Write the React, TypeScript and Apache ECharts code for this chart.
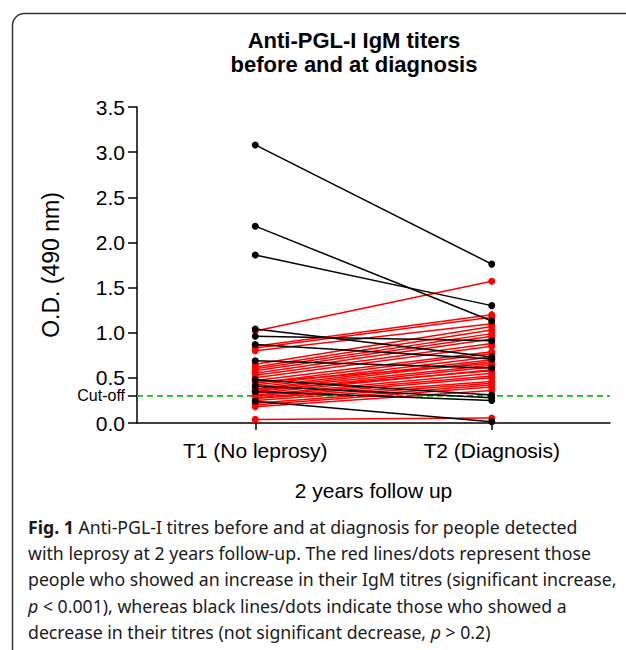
import React, { useEffect, useRef } from "react";
import * as echarts from "echarts";

const xCategories = ["T1 (No leprosy)", "T2 (Diagnosis)"];
const xPositions = [1, 3];
const yTicks = [0, 0.3, 0.5, 1.0, 1.5, 2.0, 2.5, 3.0, 3.5];
const cutOff = 0.3;

// Increasing titres (red)
const redT1 = [1.02, 0.85, 0.83, 0.8, 0.65, 0.62, 0.6, 0.58, 0.55, 0.53, 0.5, 0.47, 0.45, 0.44, 0.42, 0.4, 0.38, 0.37, 0.36, 0.35, 0.33, 0.31, 0.3, 0.28, 0.27, 0.25, 0.22, 0.2, 0.18, 0.04];
const redT2 = [1.57, 1.2, 1.17, 1.1, 1.07, 1.03, 0.99, 0.96, 0.93, 0.88, 0.85, 0.79, 0.66, 0.77, 0.73, 0.7, 0.68, 0.64, 0.58, 0.62, 0.59, 0.55, 0.52, 0.5, 0.46, 0.44, 0.42, 0.4, 0.36, 0.055];

// Decreasing titres (black)
const blackT1 = [3.08, 2.18, 1.86, 1.04, 0.96, 0.87, 0.69, 0.48, 0.41, 0.35, 0.24];
const blackT2 = [1.76, 1.13, 1.3, 0.73, 0.91, 0.71, 0.61, 0.31, 0.28, 0.25, 0.015];

const titleLines = ["Anti-PGL-I IgM titers", "before and at diagnosis"];
const yAxisName = "O.D. (490 nm)";
const xAxisName = "2 years follow up";

const captionLines = [
  "{b|Fig. 1} Anti-PGL-I titres before and at diagnosis for people detected",
  "with leprosy at 2 years follow-up. The red lines/dots represent those",
  "people who showed an increase in their IgM titres (significant increase,",
  "{i|p} < 0.001), whereas black lines/dots indicate those who showed a",
  "decrease in their titres (not significant decrease, {i|p} > 0.2)",
];

export default function App() {
  const ref = useRef<HTMLDivElement>(null);
  useEffect(() => {
    if (!ref.current) return;
    const chart = echarts.init(ref.current, undefined, { renderer: "svg" });
    const axisFont = "Liberation Sans, Arial, sans-serif";
    const capFont = "Noto Sans, Open Sans, sans-serif";
    const capSize = 17.7;
    const pairSeries = (t1: number[], t2: number[], color: string, name: string) =>
      t1.map((v, i) => ({
        type: "line",
        name: name + i,
        data: [
          [xPositions[0], v],
          [xPositions[1], t2[i]],
        ],
        symbol: "circle",
        symbolSize: 7,
        itemStyle: { color },
        lineStyle: { color, width: 1.5 },
        silent: true,
      }));

    const option: any = {
      animation: false,
      grid: { left: 137, top: 107, right: 16, bottom: 227, containLabel: false },
      xAxis: {
        type: "value",
        min: 0,
        max: 4,
        interval: 1,
        name: xAxisName,
        nameLocation: "middle",
        nameGap: 57,
        nameTextStyle: { fontFamily: axisFont, fontSize: 21, color: "#000" },
        axisLine: { show: true, lineStyle: { color: "#000", width: 1.5 } },
        axisTick: { show: true, customValues: xPositions, length: 7, lineStyle: { color: "#000", width: 1.5 } },
        axisLabel: {
          customValues: xPositions,
          formatter: (v: number) => xCategories[xPositions.indexOf(v)] ?? "",
          fontFamily: axisFont,
          fontSize: 21,
          color: "#000",
          margin: 17,
        },
        splitLine: { show: false },
      },
      yAxis: {
        type: "value",
        min: 0,
        max: 3.5,
        interval: 0.5,
        name: yAxisName,
        nameLocation: "middle",
        nameRotate: 90,
        nameGap: 75,
        nameTextStyle: { fontFamily: axisFont, fontSize: 23, color: "#000" },
        axisLine: { show: true, lineStyle: { color: "#000", width: 1.5 } },
        axisTick: { show: true, customValues: yTicks, length: 9, lineStyle: { color: "#000", width: 1.5 } },
        axisLabel: {
          customValues: yTicks,
          formatter: (v: number) => (Math.abs(v - cutOff) < 1e-9 ? "{c|Cut-off}" : v.toFixed(1)),
          fontFamily: axisFont,
          fontSize: 21,
          color: "#000",
          margin: 12,
          rich: { c: { fontFamily: axisFont, fontSize: 16, color: "#000" } },
        },
        splitLine: { show: false },
      },
      series: [
        ...pairSeries(redT1, redT2, "#ff0000", "red"),
        ...pairSeries(blackT1, blackT2, "#000000", "black"),
        {
          type: "line",
          name: "cutoff",
          data: [
            [0, cutOff],
            [4, cutOff],
          ],
          symbol: "none",
          lineStyle: { color: "#00c800", width: 1.6, type: [6, 4] },
          silent: true,
          z: 1,
        },
      ],
      graphic: [
        {
          type: "rect",
          shape: { x: 12.5, y: 13.5, width: 720, height: 700, r: 12 },
          style: { fill: "none", stroke: "#333", lineWidth: 1.5 },
          silent: true,
        },
        ...titleLines.map((t, i) => ({
          type: "text",
          x: 354,
          y: 40 + i * 24,
          style: {
            text: t,
            fontFamily: axisFont,
            fontWeight: "bold",
            fontSize: 22,
            fill: "#000",
            textAlign: "center",
            textVerticalAlign: "middle",
          },
        })),
        ...captionLines.map((t, i) => ({
          type: "text",
          x: 28,
          y: 527 + i * 26.2,
          style: {
            text: t,
            fontFamily: capFont,
            fontSize: capSize,
            fill: "#1a1a1a",
            textAlign: "left",
            textVerticalAlign: "middle",
            rich: {
              b: { fontFamily: capFont, fontSize: capSize, fontWeight: "bold", fill: "#1a1a1a" },
              i: { fontFamily: capFont, fontSize: capSize, fontStyle: "italic", fill: "#1a1a1a" },
            },
          },
        })),
      ],
    };
    chart.setOption(option);
    return () => chart.dispose();
  }, []);
  return (
    <div
      ref={ref}
      style={{ position: "fixed", left: 0, top: 0, width: 626, height: 650, background: "#fff" }}
    />
  );
}
